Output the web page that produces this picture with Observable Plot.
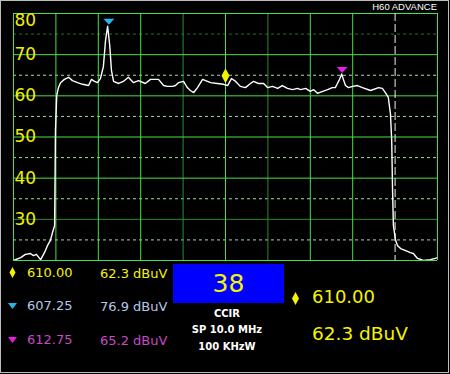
<!DOCTYPE html>
<html>
<head>
<meta charset="utf-8">
<script src="https://cdn.jsdelivr.net/npm/d3@7"></script>
<script src="https://cdn.jsdelivr.net/npm/@observablehq/plot@0.6"></script>
<style>
html,body{margin:0;padding:0;background:#000;}
#wrap{position:relative;width:450px;height:374px;background:#000;overflow:hidden;}
#chart{position:absolute;left:0;top:0;}
#panel{position:absolute;left:0;top:0;}
#frame{position:absolute;left:0;top:0;width:449px;height:373px;box-sizing:border-box;border:1px solid #bdbdbd;pointer-events:none;}
</style>
</head>
<body>
<div id="wrap"><div id="chart"></div><svg id="panel" width="450" height="374"></svg><div id="frame"></div></div>
<script>
// ---- data ----
const traceFreq = [605.00,605.17,605.28,605.40,605.47,605.54,605.64,605.73,605.80,605.87,605.92,605.97,605.99,606.02,606.06,606.11,606.20,606.30,606.39,606.51,606.63,606.77,606.84,606.91,606.98,607.05,607.12,607.17,607.22,607.27,607.31,607.36,607.48,607.59,607.71,607.83,607.95,608.11,608.23,608.42,608.54,608.63,608.75,608.82,608.89,609.01,609.10,609.17,609.25,609.34,609.46,609.53,609.65,609.81,609.95,610.05,610.14,610.24,610.35,610.47,610.59,610.66,610.78,610.90,610.99,611.11,611.23,611.34,611.46,611.58,611.70,611.77,611.89,612.00,612.08,612.17,612.29,612.41,612.52,612.59,612.64,612.69,612.74,612.78,612.83,612.90,613.00,613.11,613.23,613.42,613.61,613.70,613.77,613.84,613.89,613.92,613.94,613.96,614.01,614.06,614.13,614.25,614.36,614.43,614.53,614.67,614.83,614.95,615.00];
const traceDb = [20.0,20.7,21.5,21.7,21.2,21.5,20.2,21.9,23.6,24.9,26.8,28.5,51.6,60.1,62.0,63.2,64.0,64.5,63.7,63.2,62.8,62.5,64.0,63.5,63.2,64.2,67.1,73.4,76.9,72.2,66.2,63.5,63.0,63.5,64.5,63.2,63.7,63.0,64.0,64.0,62.5,62.3,62.3,62.5,63.2,63.5,62.0,61.3,60.8,62.0,64.0,63.7,63.2,63.0,62.8,62.5,64.2,63.5,62.3,62.0,63.0,63.5,63.0,63.0,62.0,62.3,61.8,62.5,61.8,61.5,61.8,61.5,61.8,61.1,61.5,60.6,61.1,61.5,62.0,62.0,63.0,64.0,65.3,64.0,62.5,62.0,62.3,62.5,62.0,61.3,62.0,61.8,60.8,59.6,55.7,49.2,37.0,28.5,24.9,23.6,22.9,22.4,21.9,21.7,20.5,20.0,20.2,20.5,20.7];

const gridDbSolid = [80, 70, 60, 50, 40, 20];
const gridDbDim = [30];
const gridDbDashed = [65, 55, 45, 35, 25];
const gridDbDotted = [75];
const gridFreqBright = [605, 606, 607, 608, 610, 612, 613, 615];
const gridFreqDim = [609, 611];
const channelEdge = [614];
const yTickTop = [80];
const yTicks = [70, 60, 50, 40, 30];

const markerFreq = [610.00, 607.25, 612.75];
const markerDb = [62.3, 76.9, 65.2];
const markerSymbolColor = ["#f4f400", "#2ab4ea", "#e41ee4"];
const markerTextColor = ["#f4f400", "#b6c8e6", "#c848c8"];

const channelNumber = "38";
const standardLabel = "CCIR";
const spanLabel = "SP 10.0 MHz";
const rbwLabel = "100 KHzW";
const brandLabel = "H60 ADVANCE";

// ---- chart ----
const trace = traceFreq.map((f, i) => ({f, db: traceDb[i]}));
const markers = markerFreq.map((f, i) => ({f, db: markerDb[i]}));

const symDown = {draw(ctx) { ctx.moveTo(-5.5, -7.5); ctx.lineTo(5.5, -7.5); ctx.lineTo(0, -1.5); ctx.closePath(); }};
const symDiamond = {draw(ctx) { ctx.moveTo(0, -18); ctx.lineTo(4, -10.5); ctx.lineTo(0, -3); ctx.lineTo(-4, -10.5); ctx.closePath(); }};

const font = "DejaVu Sans";
const chart = Plot.plot({
  width: 450, height: 261,
  marginLeft: 13, marginRight: 13, marginTop: 13, marginBottom: 1,
  x: {domain: [605, 615], axis: null},
  y: {domain: [20, 80], axis: null},
  style: {background: "transparent"},
  marks: [
    Plot.ruleY(gridDbDotted, {y: d => d, stroke: "#2e6a2e", strokeDasharray: "3,3"}),
    Plot.ruleY(gridDbDashed, {y: d => d, stroke: "#a4dca4", strokeDasharray: "3,3"}),
    Plot.ruleX(gridFreqDim, {x: d => d, stroke: "#2f8a2f"}),
    Plot.ruleY(gridDbDim, {y: d => d, stroke: "#2f8a2f"}),
    Plot.ruleX(gridFreqBright, {x: d => d, stroke: "#48e048"}),
    Plot.ruleY(gridDbSolid, {y: d => d, stroke: "#48e048"}),
    Plot.ruleX(channelEdge, {x: d => d, stroke: "#f4f4d8", strokeDasharray: "8,3"}),
    Plot.text(yTickTop, {frameAnchor: "left", y: d => d, text: d => String(d), textAnchor: "start", lineAnchor: "top", dx: 1, fill: "#f0f000", fontSize: 17, fontFamily: font}),
    Plot.text(yTicks, {frameAnchor: "left", y: d => d, text: d => String(d), textAnchor: "start", lineAnchor: "middle", dx: 1, fill: "#f0f000", fontSize: 17, fontFamily: font}),
    Plot.line(trace, {x: "f", y: "db", stroke: "#ffffff", strokeWidth: 1.4, clip: true}),
    Plot.dot([markers[0]], {x: "f", y: "db", symbol: symDiamond, fill: markerSymbolColor[0], stroke: "none"}),
    Plot.dot([markers[1]], {x: "f", y: "db", symbol: symDown, fill: markerSymbolColor[1], stroke: "none"}),
    Plot.dot([markers[2]], {x: "f", y: "db", symbol: symDown, fill: markerSymbolColor[2], stroke: "none"})
  ]
});
document.getElementById("chart").appendChild(chart);

// ---- readout panel ----
const svg = d3.select("#panel");
svg.append("text").attr("x", 437).attr("y", 10).attr("text-anchor", "end")
  .attr("fill", "#ffffff").attr("font-family", "Liberation Sans").attr("font-size", 9.5).text(brandLabel);

const rowBase = [277, 310, 344];
const rowSym = [
  "M12.5,267 L15.5,272.5 L12.5,278 L9.5,272.5 Z",
  "M8,303 L17,303 L12.5,309 Z",
  "M8,337 L17,337 L12.5,343 Z"
];
markerFreq.forEach((f, i) => {
  svg.append("path").attr("d", rowSym[i]).attr("fill", markerSymbolColor[i]);
  svg.append("text").attr("x", 27).attr("y", rowBase[i]).attr("fill", markerTextColor[i])
    .attr("font-family", font).attr("font-size", 13).text(f.toFixed(2));
  svg.append("text").attr("x", 100).attr("y", rowBase[i] + 1).attr("fill", markerTextColor[i])
    .attr("font-family", font).attr("font-size", 13).text(markerDb[i].toFixed(1) + " dBuV");
});

svg.append("rect").attr("x", 173).attr("y", 264).attr("width", 111).attr("height", 39).attr("fill", "#0000ff");
svg.append("text").attr("x", 228.5).attr("y", 292).attr("text-anchor", "middle").attr("fill", "#f4f400")
  .attr("font-family", font).attr("font-size", 25).text(channelNumber);
[[standardLabel, 317], [spanLabel, 333], [rbwLabel, 350]].forEach(([t, y]) => {
  svg.append("text").attr("x", 227).attr("y", y).attr("text-anchor", "middle").attr("fill", "#ffffff")
    .attr("font-family", font).attr("font-weight", "bold").attr("font-size", 10).text(t);
});

svg.append("path").attr("d", "M295.5,292 L299,298.5 L295.5,305 L292,298.5 Z").attr("fill", markerSymbolColor[0]);
svg.append("text").attr("x", 312).attr("y", 303).attr("fill", "#f4f400")
  .attr("font-family", font).attr("font-size", 18).text(markerFreq[0].toFixed(2));
svg.append("text").attr("x", 312).attr("y", 340).attr("fill", "#f4f400")
  .attr("font-family", font).attr("font-size", 18.5).text(markerDb[0].toFixed(1) + " dBuV");
</script>
</body>
</html>
